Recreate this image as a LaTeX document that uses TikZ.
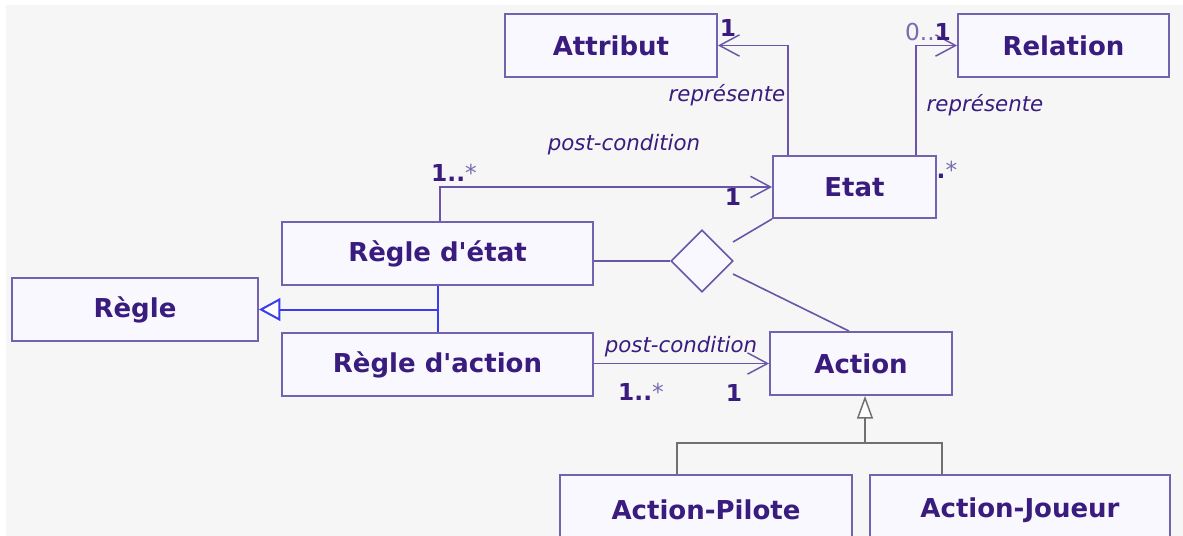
\documentclass[tikz,border=0pt]{standalone}
\usepackage{fontspec}
\setmainfont{DejaVu Sans}
\usetikzlibrary{arrows.meta,shapes.geometric}
\definecolor{txt}{HTML}{3A1C7E}
\definecolor{edge}{HTML}{7262B0}
\definecolor{wire}{HTML}{6A55A8}
\definecolor{boxfill}{HTML}{F8F8FE}
\definecolor{paper}{HTML}{F6F6F6}
\definecolor{genblue}{HTML}{3B3BF0}
\definecolor{gengray}{HTML}{707070}
\definecolor{star}{HTML}{7A6AB0}
\tikzset{
  cls/.style={draw=edge, line width=1.4pt, fill=boxfill, text=txt,
    font=\fontsize{19.5}{22}\selectfont\bfseries, inner sep=0pt},
  assoc/.style={draw=wire, line width=1.2pt},
  nav/.style={assoc, -{Straight Barb[length=15pt,width=16pt,line width=1.1pt]}},
  rolename/.style={text=txt, font=\fontsize{16}{18}\selectfont\itshape, inner sep=0pt},
  mult/.style={text=txt, font=\fontsize{17.5}{20}\selectfont\bfseries, inner sep=0pt},
}
\newcommand{\st}{\textcolor{star}{\mdseries *}}
\newcommand{\apos}{\textquotesingle}
\begin{document}
\begin{tikzpicture}[x=0.75pt, y=-0.75pt]
\useasboundingbox (0,0) rectangle (1183,536);
\clip (0,0) rectangle (1183,536);
\fill[white] (0,0) rectangle (1183,536);
\fill[paper] (6,5) rectangle (1183,536);

% classes
\node[cls, minimum width=159pt, minimum height=47.25pt] (attr) at (611,45.5) {Attribut};
\node[cls, minimum width=158.25pt, minimum height=47.25pt] (rel) at (1063.5,45.5) {Relation};
\node[cls, minimum width=122.25pt, minimum height=46.5pt] (etat) at (854.5,187) {Etat};
\node[cls, minimum width=233.25pt, minimum height=47.25pt] (regetat) at (437.5,253.5) {Règle d\apos état};
\node[cls, minimum width=184.5pt, minimum height=47.25pt] (regle) at (135,309.5) {Règle};
\node[cls, minimum width=233.25pt, minimum height=47.25pt] (regaction) at (437.5,364.5) {Règle d\apos action};
\node[cls, minimum width=136.5pt, minimum height=47.25pt] (action) at (861,363.5) {Action};
\node[cls, minimum width=219pt, minimum height=52.5pt] (apilote) at (706,510) {Action-Pilote};
\node[cls, minimum width=225pt, minimum height=52.5pt] (ajoueur) at (1020,510) {Action-Joueur};

% n-ary association diamond
\node[draw=wire, line width=1.2pt, fill=boxfill, shape=diamond, minimum width=46.5pt,
  minimum height=46.5pt, inner sep=0pt] (dia) at (702,261) {};
\coordinate (d1) at (733,242);
\coordinate (d2) at (733,274);

% associations Etat -> Attribut / Relation
\draw[nav] ([xshift=12pt]etat.north west) |- (attr.east);
\draw[nav] ([xshift=-15.75pt]etat.north east) |- (rel.west);

% post-condition Regle d'etat -> Etat
\draw[nav] ([xshift=1.9pt]regetat.north) |- (etat.west);
% post-condition Regle d'action -> Action
\draw[nav] (regaction.east |- action.west) -- (action.west);

% diamond legs
\draw[assoc] (dia.west) -- (dia.west -| regetat.east);
\draw[assoc] (d1) -- (etat.south west);
\draw[assoc] (d2) -- ([xshift=-9pt]action.north);

% generalisation to Regle
\draw[genblue, line width=1.5pt] (regetat.south) -- (regaction.north);
\draw[genblue, line width=1.5pt, -{Triangle[open, fill=white, length=16pt, width=17pt, line width=1.5pt]}]
  (regle.east -| regetat.south) -- (regle.east);

% generalisation to Action
\coordinate (j) at (865,443);
\draw[gengray, line width=1.1pt] ([xshift=-21.75pt]apilote.north) |- (j) -| ([xshift=-58.5pt]ajoueur.north);
\draw[gengray, line width=1.1pt, {Triangle[open, fill=white, length=17pt, width=12pt, line width=1.1pt]}-]
  ([xshift=3pt]action.south) -- (j);

% labels
\node[mult] (m1) at (728,28) {1};
\node[rolename] (r1) at (727,95) {représente};
\node[mult] (m2) at (928,32) {\textcolor{star}{\mdseries 0..}1};
\node[rolename] (r2) at (985,105) {représente};
\node[mult] (m3) at (947,170) {.\st};
\node[rolename] (p1) at (624,145) {post-condition};
\node[mult] (m4) at (454,173) {1..\st};
\node[mult] (m5) at (733,197) {1};
\node[rolename] (p2) at (681,347) {post-condition};
\node[mult] (m6) at (641,392) {1..\st};
\node[mult] (m7) at (734,393) {1};
\end{tikzpicture}
\end{document}
